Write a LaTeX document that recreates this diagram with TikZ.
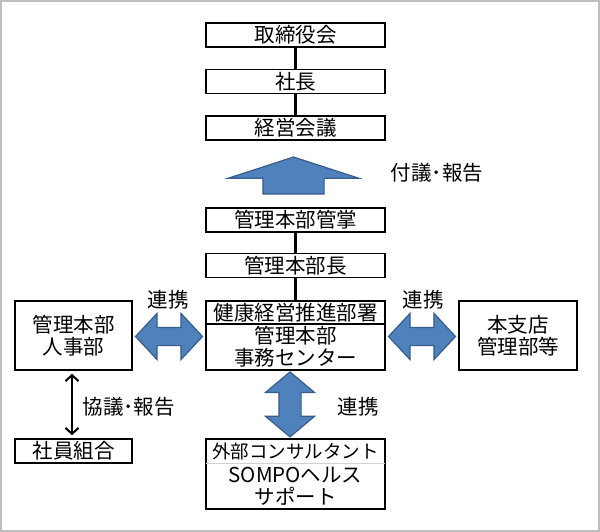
\documentclass[tikz,border=0pt]{standalone}
\usepackage{fontspec}
\setmainfont{Noto Sans CJK JP}
\usetikzlibrary{arrows.meta, positioning, shapes.arrows, calc, fit}
\definecolor{arrowblue}{HTML}{4F81BD}
\definecolor{arrowedge}{HTML}{385D8A}
\definecolor{framegray}{HTML}{BFBFBF}

\begin{document}
\begin{tikzpicture}[
  x=1pt, y=-1pt, node distance=46.5pt, on grid, >={Straight Barb[length=6pt,width=13pt]},
  font=\fontsize{20.5}{22}\selectfont,
  box/.style={draw, line width=1.5pt, minimum width=179pt, minimum height=24pt, inner sep=0pt, align=center},
  sidebox/.style={box, minimum width=117pt, minimum height=69pt},
  link/.style={line width=3pt},
  blockarrow/.style={fill=arrowblue, draw=arrowedge, line width=1.2pt, inner xsep=0pt},
  tie/.style={blockarrow, double arrow, inner ysep=8.5pt, minimum height=67pt,
    double arrow head extend=14pt, double arrow tip angle=94},
  ]
  \useasboundingbox (0,0) rectangle (600,532);
  \draw[framegray, line width=2pt] (1,1) rectangle (599,531);

  \node[box]                          (board)     at (295.5,35)      {取締役会};
  \node[box]                          (president) [below=of board]   {社長};
  \node[box]                          (meeting)   [below=of president] {経営会議};
  \node[box]                          (charge)    at (295.5,220)     {管理本部管掌};
  \node[box]                          (gm)        [below=45.5pt of charge] {管理本部長};
  \node[box, minimum height=23pt]     (promo)     [below=47pt of gm]  {健康経営推進部署};
  \node[box, minimum height=46pt]     (office)    [below=34.5pt of promo] {管理本部\\事務センター};
  \node[sidebox]                      (hr)        at (73.5,335.5)    {管理本部\\人事部};
  \node[sidebox, minimum width=118pt] (branch)    at (518,335.5)     {本支店\\管理部等};
  \node[box, minimum width=117pt]     (union)     at (73.5,451)      {社員組合};

  % outside support, one frame round two parts
  \node[minimum width=179pt, minimum height=24pt, inner sep=0pt, font=\fontsize{18.5}{22}\selectfont] (consult) at (295.5,451) {外部コンサルタント};
  \node[minimum width=179pt, minimum height=46pt, inner sep=0pt, align=center] (sompo) [below=35pt of consult] {SOMPOヘルス\\サポート};
  \node[draw, line width=1.5pt, inner sep=0pt, fit=(consult)(sompo)] (vendor) {};
  \draw[gray!35, line width=0.8pt] (consult.south west) -- (consult.south east);

  \draw[link] (board) -- (president);
  \draw[link] (president) -- (meeting);
  \draw[link] (charge) -- (gm);
  \draw[link] (gm) -- (promo);

  \node[blockarrow, single arrow, rotate=90, inner ysep=30pt, minimum height=37pt,
        single arrow head extend=35pt, single arrow tip angle=144]
        (report) at ($(meeting.south)!0.5!(charge.north)+(-2,6.5)$) {};
  \node[tie] (hrtie) at ($(hr.east)!0.5!(office.west |- hr.east)+(0,1)$) {};
  \node[tie] (branchtie) at ($(office.east |- branch.west)!0.5!(branch.west)+(0,1)$) {};
  \node[blockarrow, double arrow, rotate=90, inner ysep=10.5pt, minimum height=65pt,
        double arrow head extend=13.5pt, double arrow tip angle=100]
        (vendortie) at ($(office.south)!0.5!(vendor.north)+(-5.5,0)$) {};

  \draw[<->, line width=2pt, shorten <=3pt, shorten >=3pt] ([xshift=-1.5pt]hr.south) -- ([xshift=-1.5pt]union.north);

  \node at (437,173) {付議･報告};
  \node at (168,300) {連携};
  \node at (423,300) {連携};
  \node at (358,407) {連携};
  \node[anchor=west] at (79,407) {協議･報告};
\end{tikzpicture}
\end{document}
